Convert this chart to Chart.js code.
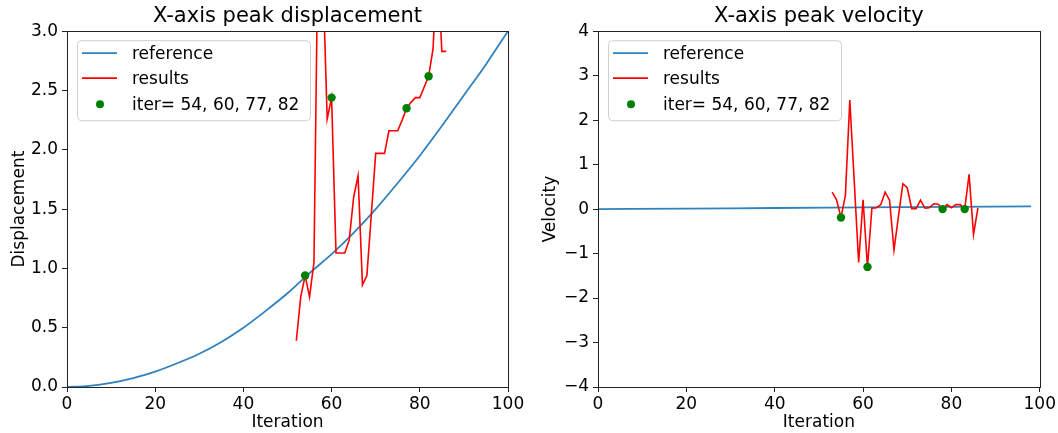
<!DOCTYPE html>
<html>
<head>
<meta charset="utf-8">
<script src="https://cdn.jsdelivr.net/npm/chart.js@4.4.0/dist/chart.umd.min.js"></script>
<style>
  body { margin: 0; background: #fff; }
  #wrap { display: flex; width: 1058px; height: 433px; }
  canvas { display: block; }
</style>
</head>
<body>
<div id="wrap">
  <canvas id="dispChart" width="529" height="433"></canvas>
  <canvas id="velChart" width="529" height="433"></canvas>
</div>
<script>
// displacement: reference curve
const refIter = [0, 5, 10, 15, 20, 25, 30, 35, 40, 45, 50, 55, 60, 65, 70, 75, 80, 85, 90, 95, 100];
const refDisp = [0, 0.01, 0.035, 0.075, 0.13, 0.2, 0.28, 0.38, 0.50, 0.64, 0.79, 0.96, 1.12, 1.30, 1.50, 1.72, 1.95, 2.20, 2.46, 2.72, 3.0];

// displacement: results, iterations 52..86
const resIter = [52, 53, 54, 55, 56, 57, 58, 59, 60, 61, 62, 63, 64, 65, 66, 67, 68, 69,
  70, 71, 72, 73, 74, 75, 76, 77, 78, 79, 80, 81, 82, 83, 84, 85, 86];
const resDisp = [0.39, 0.76, 0.94, 0.76, 1.05, 4.0, 3.5, 2.26, 2.44, 1.13, 1.13, 1.13, 1.24, 1.60, 1.78, 0.86, 0.94, 1.45,
  1.97, 1.97, 1.97, 2.16, 2.16, 2.16, 2.25, 2.35, 2.40, 2.44, 2.44, 2.53, 2.62, 2.85, 3.6, 2.83, 2.83];
const dispMarks = [54, 60, 77, 82];

// velocity: reference curve
const velRefIter = [0, 20, 40, 60, 80, 98];
const velRef = [0, 0.012, 0.025, 0.037, 0.049, 0.06];

// velocity: results, iterations 53..86
const velIter = [53, 54, 55, 56, 57, 58, 59, 60, 61, 62, 63, 64, 65, 66, 67, 68, 69,
  70, 71, 72, 73, 74, 75, 76, 77, 78, 79, 80, 81, 82, 83, 84, 85, 86];
const velRes = [0.38, 0.21, -0.19, 0.31, 2.45, 0.63, -1.2, 0.21, -1.30, 0.02, 0.03, 0.1, 0.38, 0.2, -0.92, -0.17, 0.57,
  0.48, 0.01, 0.01, 0.2, 0.02, 0.03, 0.12, 0.11, 0.0, 0.1, 0.03, 0.1, 0.1, 0.0, 0.78, -0.57, 0.03];
const velMarks = [55, 61, 78, 83];

const markLabel = 'iter= 54, 60, 77, 82';

const FONT = "'DejaVu Sans', sans-serif";
const INK = '#000';
const SPINE = '#222';
const BLUE = '#2f82bd';

function toPoints(xs, ys) {
  return xs.map(function (x, i) { return {x: x, y: ys[i]}; });
}

function pick(iters, xs, ys) {
  return iters.map(function (it) { return {x: it, y: ys[xs.indexOf(it)]}; });
}

// frame on all four sides + matplotlib style legend box inside the axes
const framePlugin = {
  id: 'framePlugin',
  afterDraw(chart) {
    const a = chart.chartArea;
    const c = chart.ctx;
    c.save();
    c.strokeStyle = SPINE;
    c.lineWidth = 1;
    c.strokeRect(Math.round(a.left) + 0.5, Math.round(a.top) + 0.5,
      Math.round(a.right - a.left), Math.round(a.bottom - a.top));

    // legend
    const bx = a.left + 10, by = a.top + 9, bw = 233, bh = 80;
    c.beginPath();
    c.roundRect(bx + 0.5, by + 0.5, bw, bh, 4);
    c.fillStyle = 'rgba(255,255,255,0.8)';
    c.fill();
    c.strokeStyle = '#d0d0d0';
    c.stroke();

    const rows = [22, 47, 73];
    c.font = '17px ' + FONT;
    c.textBaseline = 'middle';
    c.textAlign = 'left';
    chart.data.datasets.forEach(function (ds, i) {
      const y = a.top + rows[i];
      if (ds.showLine) {
        c.strokeStyle = ds.borderColor;
        c.lineWidth = 1.8;
        c.beginPath();
        c.moveTo(a.left + 15, y);
        c.lineTo(a.left + 50, y);
        c.stroke();
      } else {
        c.fillStyle = ds.backgroundColor;
        c.beginPath();
        c.arc(a.left + 33, y, 4, 0, Math.PI * 2);
        c.fill();
      }
      c.fillStyle = INK;
      c.fillText(ds.label, a.left + 65, y + 1);
    });
    c.restore();
  }
};

function peakChart(ctx, title, yLabel, yRange, yFmt, yWidth, padRight, lines) {
  const chart = new Chart(ctx, {
    type: 'scatter',
    data: {
      datasets: [{
        label: 'reference',
        data: lines.ref,
        showLine: true,
        borderColor: BLUE,
        borderWidth: 1.8,
        pointRadius: 0,
        cubicInterpolationMode: 'monotone',
        order: 2
      },
      {
        label: 'results',
        data: lines.res,
        showLine: true,
        borderColor: '#ff0000',
        borderWidth: 1.6,
        pointRadius: 0,
        order: 1
      },
      {
        label: markLabel,
        data: lines.marks,
        showLine: false,
        backgroundColor: '#008000',
        borderColor: '#008000',
        borderWidth: 0,
        pointRadius: 4.2,
        order: 0
      }]
    },
    options: {
      responsive: false,
      animation: false,
      events: [],
      layout: { padding: { left: 0, right: padRight, top: 0, bottom: 0 } },
      plugins: {
        legend: { display: false },
        tooltip: { enabled: false },
        title: {
          display: true,
          text: title,
          fullSize: false,
          color: INK,
          font: { family: FONT, size: 21, weight: 'normal' },
          padding: { top: 4, bottom: 2 }
        }
      },
      scales: {
        x: {
          type: 'linear',
          min: 0,
          max: 100,
          afterFit: function (s) { s.height = 46; },
          ticks: { stepSize: 20, color: INK, padding: 2, font: { family: FONT, size: 17 } },
          grid: { drawOnChartArea: false, tickLength: 5, color: SPINE },
          border: { color: SPINE },
          title: {
            display: true, text: 'Iteration', color: INK,
            font: { family: FONT, size: 17 }, padding: { top: 0, bottom: 0 }
          }
        },
        y: {
          min: yRange[0],
          max: yRange[1],
          afterFit: function (s) { s.width = yWidth; },
          ticks: { stepSize: yRange[2], color: INK, padding: 4, font: { family: FONT, size: 17 }, callback: yFmt },
          grid: { drawOnChartArea: false, tickLength: 5, color: SPINE },
          border: { color: SPINE },
          title: {
            display: true, text: yLabel, color: INK,
            font: { family: FONT, size: 17 }, padding: { top: yWidth - 58, bottom: 0 }
          }
        }
      }
    },
    plugins: [framePlugin]
  });
  return chart;
}

var dispChart = peakChart(document.getElementById('dispChart'),
  'X-axis peak displacement', 'Displacement', [0, 3, 0.5],
  function (v) { return v.toFixed(1); }, 67, 21,
  { ref: toPoints(refIter, refDisp), res: toPoints(resIter, resDisp), marks: pick(dispMarks, resIter, resDisp) });

var velChart = peakChart(document.getElementById('velChart'),
  'X-axis peak velocity', 'Velocity', [-4, 4, 1],
  function (v) { return String(v).replace('-', '\u2212'); }, 69, 18,
  { ref: toPoints(velRefIter, velRef), res: toPoints(velIter, velRes), marks: pick(velMarks, velIter, velRes) });
</script>
</body>
</html>
